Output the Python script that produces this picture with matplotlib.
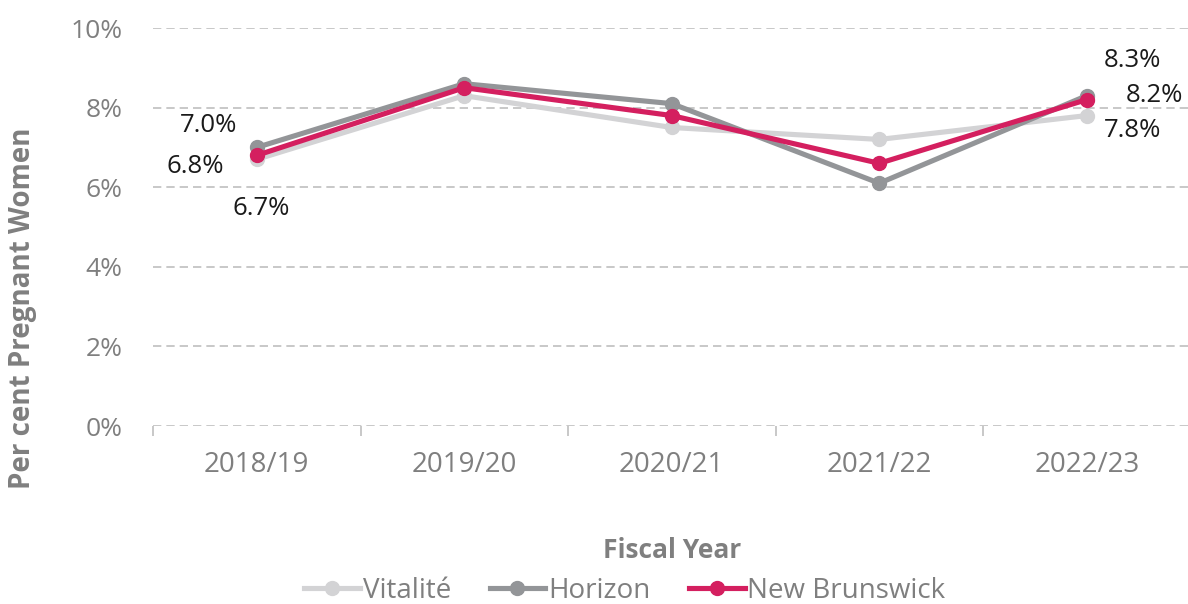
import matplotlib
matplotlib.use("Agg")
import matplotlib.pyplot as plt
import numpy as np

plt.rcParams['font.family'] = ['Open Sans', 'DejaVu Sans']

# data
years = ['2018/19', '2019/20', '2020/21', '2021/22', '2022/23']
vitalite = [6.7, 8.3, 7.5, 7.2, 7.8]
horizon = [7.0, 8.6, 8.1, 6.1, 8.3]
new_brunswick = [6.8, 8.5, 7.8, 6.6, 8.2]
y_ticks = [0, 2, 4, 6, 8, 10]

grey_txt = '#7f7f7f'
c_vit = '#d3d3d5'
c_hor = '#939598'
c_nb = '#d41f5f'

fig = plt.figure(figsize=(11.88, 6.04), dpi=100)
ax = fig.add_axes([153 / 1188, 1 - 426 / 604, 1037.5 / 1188, 398 / 604])

x = np.arange(len(years))
ax.plot(x, vitalite, color=c_vit, lw=3.7, marker='o', ms=10, label='Vitalité', zorder=3)
ax.plot(x, horizon, color=c_hor, lw=3.7, marker='o', ms=10, label='Horizon', zorder=4)
ax.plot(x, new_brunswick, color=c_nb, lw=3.7, marker='o', ms=10, label='New Brunswick', zorder=5)

# data labels at first and last year (offsets in pixels)
first_off = [(4, -49), (-48, 22), (-61, -11)]
last_off = [(46, -15), (46, 35), (68, 4)]
for s, o1, o2 in zip([vitalite, horizon, new_brunswick], first_off, last_off):
    ax.annotate(f'{s[0]:.1f}%', (0, s[0]), xytext=o1, textcoords='offset pixels',
                ha='center', va='center', fontsize=18.5, color='#1a1a1a')
    ax.annotate(f'{s[-1]:.1f}%', (4, s[-1]), xytext=o2, textcoords='offset pixels',
                ha='center', va='center', fontsize=18.5, color='#1a1a1a')

ax.set_xlim(-0.5, 4.5)
ax.set_ylim(0, 10)
ax.set_yticks(y_ticks)
ax.set_yticklabels([f'{v}%' for v in y_ticks])
ax.set_xticks(x)
ax.set_xticklabels(years)
ax.set_xticks(np.arange(-0.5, 4.6, 1), minor=True)
ax.tick_params(axis='x', which='major', length=0, pad=18, labelsize=20, labelcolor=grey_txt)
ax.tick_params(axis='x', which='minor', length=7, width=1.2, color='#bfbfbf', direction='out')
ax.tick_params(axis='y', length=0, pad=22, labelsize=19, labelcolor=grey_txt)

ax.grid(axis='y', color='#bfbfbf', ls=(0, (5, 3)), lw=1.2)
for sp in ax.spines.values():
    sp.set_visible(False)

# axis titles
fig.text(23 / 1188, 1 - 308 / 604, 'Per cent Pregnant Women', rotation=90, ha='center', va='center',
         fontsize=20, fontweight='bold', color=grey_txt)
fig.text(0.5657, 1 - 551 / 604, 'Fiscal Year', ha='center', va='center',
         fontsize=19, fontweight='bold', color=grey_txt)

leg = fig.legend(loc='center', bbox_to_anchor=(0.526, 1 - 591 / 604), ncol=3, frameon=False,
                 fontsize=20, handlelength=2.0, columnspacing=1.4, handletextpad=0.1,
                 labelcolor=grey_txt)

fig.savefig('out.png', dpi=100)
